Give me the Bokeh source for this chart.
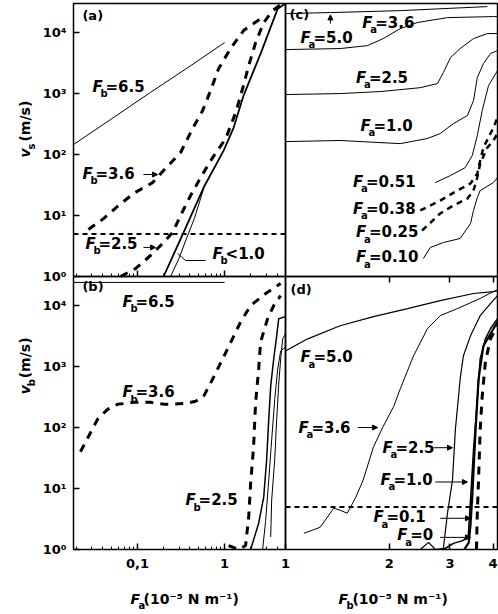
import math
from bokeh.plotting import figure
from bokeh.models import (Range1d, LogScale, LogAxis, FixedTicker, Label, Arrow,
                          NormalHead, BoxAnnotation)
from bokeh.embed import file_html
from bokeh.resources import INLINE

FONT = "DejaVu Sans"

# ---- axis extents (panel ranges) ----
FA_MIN, FA_MAX = 0.0184, 5.0      # F_a, left column
FB_MIN, FB_MAX = 1.0, 4.12        # F_b, right column
V_MIN, V_MAX = 1.0, 3.0e4         # v_s / v_b
V_THRESH = 5.0

# ---- tick labels ----
y_ticks = [1, 10, 100, 1000, 10000]
y_tick_labels = ["10⁰", "10¹", "10²", "10³", "10⁴"]
fa_ticks = [0.1, 1]
fa_tick_labels = ["0,1", "1"]
fa_minor = [0.02, 0.03, 0.04, 0.05, 0.06, 0.07, 0.08, 0.09,
            0.2, 0.3, 0.4, 0.5, 0.6, 0.7, 0.8, 0.9, 2, 3, 4]
fb_ticks = [1, 2, 3, 4]
fb_tick_labels = ["1", "2", "3", "4"]

# ---- panel (a): v_s vs F_a ----
a_fb65_x = [0.0184, 0.049, 0.14, 0.41, 1.0]
a_fb65_y = [146, 375, 1040, 2880, 6860]
a_fb36_x = [0.0273, 0.0407, 0.0605, 0.090, 0.149, 0.199, 0.312, 0.429, 0.559, 0.690, 0.853, 1.17, 1.65, 2.40, 2.81]
a_fb36_y = [5.9, 8.9, 14.6, 23, 34.7, 54.7, 108, 267, 526, 1120, 2570, 5470, 10800, 15700, 19000]
a_fb25_x = [0.0638, 0.0948, 0.141, 0.194, 0.253, 0.312, 0.407, 0.530, 0.728, 1.03, 1.34, 1.61, 1.89, 2.27, 2.81, 3.56, 4.40]
a_fb25_y = [1.0, 1.35, 2.21, 3.47, 5.27, 10, 21.3, 42, 89, 183, 488, 1210, 2880, 6860, 14600, 22900, 28800]
a_fb1a_x = [0.199, 0.338, 0.574, 0.974, 1.27, 1.65, 2.59, 4.07, 5.0]
a_fb1a_y = [1.0, 5.27, 28.8, 116, 277, 927, 4530, 24700, 30000]
a_fb1b_x = [0.24, 0.30, 0.36, 0.45, 0.58]
a_fb1b_y = [1.0, 2.0, 4.0, 9.0, 29]
a_callout_x = [0.605, 0.356, 0.288]
a_callout_y = [1.83, 1.83, 2.38]

# ---- panel (b): v_b vs F_a ----
b_fb65_x = [0.0184, 1.0]
b_fb65_y = [24000, 24000]
b_fb36_x = [0.0221, 0.0273, 0.0347, 0.0452, 0.0589, 0.090, 0.141, 0.210, 0.356, 0.464, 0.574, 0.748, 1.08, 1.53, 1.99, 2.96, 4.40]
b_fb36_y = [40, 71, 136, 199, 240, 259, 259, 240, 249, 269, 325, 670, 1950, 5440, 10000, 15800, 23100]
b_fb25_x = [1.11, 1.45, 1.74, 1.89, 1.99, 2.15, 2.27, 2.46, 2.59, 3.12, 3.66, 4.40]
b_fb25_y = [1.16, 1.0, 1.16, 3.38, 12.3, 48.5, 259, 910, 2540, 6100, 10000, 14600]
b_s1_x = [1.99, 2.46, 2.81, 3.04, 3.21, 3.38, 3.66, 3.96, 4.18, 5.0]
b_s1_y = [1.0, 2.7, 7.2, 30, 136, 476, 1330, 3190, 6100, 6600]
b_s2_x = [2.73, 2.96, 3.21, 3.47, 3.76, 4.07, 4.40, 5.0]
b_s2_y = [1.0, 3.0, 13.8, 63, 290, 910, 1800, 2100]
b_s3_x = [3.38, 3.47, 3.76, 3.96, 4.18, 4.40, 4.64, 5.0]
b_s3_y = [1.6, 6.5, 30, 136, 514, 1330, 2850, 3440]

# ---- panel (c): v_s vs F_b ----
c_fa50_x = [1.0, 1.35, 2.15, 3.85]
c_fa50_y = [20500, 21300, 22900, 26700]
c_fa36_x = [1.0, 1.44, 1.73, 1.92, 2.15, 2.41, 2.95, 4.01, 4.12]
c_fa36_y = [5270, 5470, 6120, 7970, 11600, 14600, 17600, 18300, 18300]
c_fa25_x = [1.0, 1.44, 1.89, 2.46, 2.76, 2.87, 3.01, 3.21, 3.51, 3.85, 4.12]
c_fa25_y = [963, 1000, 1080, 1250, 1460, 2210, 3890, 5470, 7970, 9630, 9630]
c_fa10_x = [1.0, 1.44, 2.15, 2.58, 2.81, 3.07, 3.37, 3.51, 3.60, 3.75, 3.93, 4.12]
c_fa10_y = [163, 170, 151, 183, 221, 322, 436, 768, 1830, 3100, 4530, 5070]
c_fa051_x = [2.72, 3.01, 3.32, 3.48, 3.60, 3.72, 3.88, 4.12]
c_fa051_y = [34.7, 45.3, 61, 96, 205, 526, 1350, 2380]
c_fa038_x = [2.46, 2.81, 3.15, 3.44, 3.60, 3.67, 3.75, 4.01, 4.12]
c_fa038_y = [12.1, 17.6, 25.7, 33.5, 48.8, 79.7, 130, 277, 404]
c_fa025_x = [2.49, 2.81, 3.07, 3.37, 3.51, 3.60, 3.67, 3.85, 4.01, 4.12]
c_fa025_y = [5.68, 10.8, 14.6, 19.0, 25.7, 42, 71, 130, 170, 221]
c_fa010_x = [2.51, 2.63, 2.87, 3.21, 3.44, 3.51, 3.60, 3.67, 4.01, 4.12]
c_fa010_y = [1.97, 2.99, 3.61, 4.20, 7.39, 12.1, 19.7, 25.7, 34.7, 42]

# ---- panel (d): v_b vs F_b ----
d_fa50_x = [1.0, 1.16, 1.44, 1.80, 2.26, 2.81, 3.51, 4.01, 4.12]
d_fa50_y = [1800, 2850, 4670, 6580, 8920, 12100, 15800, 17000, 17500]
d_fa36_x = [1.13, 1.26, 1.38, 1.44, 1.51, 1.60, 1.68, 1.80, 1.92, 2.06, 2.15, 2.35, 2.58, 2.81, 3.15, 3.67, 4.01, 4.12]
d_fa36_y = [1.84, 2.31, 4.76, 4.41, 3.94, 7.24, 13.8, 48.5, 104, 222, 425, 1490, 4170, 6840, 8920, 13100, 17000, 18000]
d_fa25_x = [2.46, 2.60, 2.72, 2.87, 2.95, 3.05, 3.11, 3.21, 3.28, 3.44, 3.67, 3.93, 4.12]
d_fa25_y = [1.0, 1.31, 1.0, 1.04, 3.94, 13.8, 92.7, 621, 1490, 3190, 6840, 10800, 14600]
d_fa10_x = [2.87, 3.07, 3.28, 3.39, 3.44, 3.51, 3.60, 3.67, 3.80, 3.93, 4.12]
d_fa10_y = [1.0, 1.26, 1.41, 1.70, 6.45, 43.3, 290, 1330, 2850, 4170, 6100]
d_fa01_x = [3.30, 3.40, 3.44, 3.48, 3.56, 3.63, 3.75, 4.01, 4.12]
d_fa01_y = [1.0, 1.3, 2.5, 7.24, 92.7, 621, 2180, 4170, 5440]
d_fa0_x = [3.58, 3.60, 3.63, 3.67, 3.72, 3.80, 3.93, 4.12]
d_fa0_y = [1.0, 3.94, 13.8, 92.7, 325, 1190, 2850, 4670]

# ---------------------------------------------------------------
# page geometry (pixels): panels share one canvas-sized frame
W, H = 498, 614
PX_L, PX_MID, PX_R = 73, 285, 497     # left edge, column divider, right edge
PY_T, PY_MID, PY_B = 3, 276, 549      # top edge, row divider, bottom edge


def log_range(vmin, vmax, p0, p1, total, flip=False):
    """Range over the whole canvas such that vmin sits at pixel p0, vmax at p1."""
    if not flip:
        s = (p1 - p0) / math.log10(vmax / vmin)
        return Range1d(vmin * 10 ** (-p0 / s), vmin * 10 ** ((total - p0) / s))
    s = (p0 - p1) / math.log10(vmax / vmin)
    return Range1d(vmin * 10 ** (-(total - p0) / s), vmin * 10 ** (p0 / s))


p = figure(width=W, height=H,
           x_axis_type="log", y_axis_type="log",
           x_range=log_range(FA_MIN, FA_MAX, PX_L, PX_MID, W),
           y_range=log_range(V_MIN, V_MAX, PY_B, PY_MID, H, flip=True),
           x_axis_location=None, y_axis_location=None,
           min_border=0, output_backend="svg", toolbar_location=None)
p.extra_x_ranges = {"fb": log_range(FB_MIN, FB_MAX, PX_MID, PX_R, W)}
p.extra_x_scales = {"fb": LogScale()}
p.extra_y_ranges = {"top": log_range(V_MIN, V_MAX, PY_MID, PY_T, H, flip=True)}
p.extra_y_scales = {"top": LogScale()}
p.grid.visible = False
p.outline_line_color = None
p.background_fill_color = "white"
p.border_fill_color = "white"

# panel frames
for xr, yr, (x0, x1) in [("default", "top", (FA_MIN, FA_MAX)), ("default", "default", (FA_MIN, FA_MAX)),
                         ("fb", "top", (FB_MIN, FB_MAX)), ("fb", "default", (FB_MIN, FB_MAX))]:
    p.add_layout(BoxAnnotation(left=x0, right=x1, bottom=V_MIN, top=V_MAX,
                               x_range_name=xr, y_range_name=yr,
                               fill_color=None, fill_alpha=0,
                               line_color="black", line_alpha=1.0, line_width=1.5))


def add_axis(side, ticks, labels, minor=(), xr="default", yr="default", loc=None, show=True, standoff=6):
    ax = LogAxis(x_range_name=xr, y_range_name=yr, fixed_location=loc)
    ax.ticker = FixedTicker(ticks=list(ticks), minor_ticks=list(minor))
    ax.axis_line_color = None
    ax.major_tick_in = 6
    ax.major_tick_out = 0
    ax.minor_tick_in = 3
    ax.minor_tick_out = 0
    ax.major_tick_line_width = 1.5
    ax.major_tick_line_color = "black"
    ax.minor_tick_line_color = "black"
    ax.major_label_overrides = {t: l for t, l in zip(ticks, labels)}
    ax.major_label_text_font = FONT
    ax.major_label_text_font_style = "bold"
    ax.major_label_text_font_size = "13px"
    ax.major_label_text_color = "black" if show else None
    ax.major_label_standoff = standoff
    p.add_layout(ax, side)


add_axis("left", y_ticks, y_tick_labels, yr="top", loc=FA_MIN, standoff=7)
add_axis("left", y_ticks, y_tick_labels, loc=FA_MIN, standoff=7)
add_axis("below", fa_ticks, fa_tick_labels, minor=fa_minor, loc=V_MIN, standoff=9)
add_axis("below", fb_ticks, fb_tick_labels, xr="fb", loc=V_MIN, standoff=9)
add_axis("below", fa_ticks, fa_tick_labels, minor=fa_minor, yr="top", loc=V_MIN, show=False)
add_axis("above", fb_ticks[1:], fb_tick_labels[1:], xr="fb", loc=V_MAX, show=False)

THICK = dict(line_color="black", line_width=3, line_dash="8 7")
MED = dict(line_color="black", line_width=2.5, line_dash="6 5")
THIN = dict(line_color="black", line_width=1)

# panel (a)
p.line(a_fb65_x, a_fb65_y, y_range_name="top", **THIN)
p.line(a_fb1b_x, a_fb1b_y, y_range_name="top", **THIN)
p.line(a_fb1a_x, a_fb1a_y, y_range_name="top", line_color="black", line_width=1.8)
p.line(a_fb36_x, a_fb36_y, y_range_name="top", **THICK)
p.line(a_fb25_x, a_fb25_y, y_range_name="top", **THICK)
p.line([FA_MIN, FA_MAX], [V_THRESH, V_THRESH], y_range_name="top", line_color="black", line_width=2, line_dash="5 4")
p.line(a_callout_x, a_callout_y, y_range_name="top", **THIN)

# panel (b)
p.line(b_fb65_x, b_fb65_y, **THIN)
p.line(b_fb36_x, b_fb36_y, **THICK)
p.line(b_fb25_x, b_fb25_y, **THICK)
p.line(b_s1_x, b_s1_y, line_color="black", line_width=1.5)
p.line(b_s2_x, b_s2_y, **THIN)
p.line(b_s3_x, b_s3_y, **THIN)

# panel (c)
for xs, ys in [(c_fa50_x, c_fa50_y), (c_fa36_x, c_fa36_y), (c_fa25_x, c_fa25_y),
               (c_fa10_x, c_fa10_y), (c_fa051_x, c_fa051_y), (c_fa010_x, c_fa010_y)]:
    p.line(xs, ys, x_range_name="fb", y_range_name="top", **THIN)
p.line(c_fa038_x, c_fa038_y, x_range_name="fb", y_range_name="top", **MED)
p.line(c_fa025_x, c_fa025_y, x_range_name="fb", y_range_name="top", **MED)

# panel (d)
p.line(d_fa50_x, d_fa50_y, x_range_name="fb", line_color="black", line_width=1.2)
p.line(d_fa36_x, d_fa36_y, x_range_name="fb", **THIN)
p.line(d_fa25_x, d_fa25_y, x_range_name="fb", line_color="black", line_width=1.2)
p.line(d_fa10_x, d_fa10_y, x_range_name="fb", line_color="black", line_width=1.5)
p.line(d_fa01_x, d_fa01_y, x_range_name="fb", line_color="black", line_width=2.2)
p.line(d_fa0_x, d_fa0_y, x_range_name="fb", **THICK)
p.line([FB_MIN, FB_MAX], [V_THRESH, V_THRESH], x_range_name="fb", line_color="black", line_width=2, line_dash="5 4")


# ---- text ----
def txt(x, y, text, xr="default", yr="default", size=15, style="bold", dx=0, dy=0, angle=0):
    p.add_layout(Label(x=x, y=y, x_range_name=xr, y_range_name=yr, text=text,
                       x_offset=dx, y_offset=dy, angle=angle,
                       text_font=FONT, text_font_style=style, text_font_size=f"{size}px",
                       text_color="black", text_align="left", text_baseline="middle"))


def flabel(x, y, sub, rest, xr="default", yr="default", size=15, gap=13):
    txt(x, y, "F", xr, yr, size, "bold italic")
    txt(x, y, sub, xr, yr, 10, "bold", dx=8, dy=-7)
    txt(x, y, rest, xr, yr, size, "bold", dx=gap)


def arrow(x0, y0, x1, y1, xr="default", yr="default"):
    p.add_layout(Arrow(x_start=x0, y_start=y0, x_end=x1, y_end=y1,
                       x_range_name=xr, y_range_name=yr, line_color="black", line_width=1,
                       end=NormalHead(size=5, fill_color="black", line_color="black")))


# panel letters
txt(0.0233, 19000, "(a)", yr="top", size=13)
txt(0.0233, 20600, "(b)", size=13)
txt(1.027, 19700, "(c)", xr="fb", yr="top", size=13)
txt(1.034, 18400, "(d)", xr="fb", size=13)

# panel (a) labels
flabel(0.0304, 1300, "b", "=6.5", yr="top")
flabel(0.0233, 48.8, "b", "=3.6", yr="top")
flabel(0.0252, 3.47, "b", "=2.5", yr="top")
flabel(0.728, 2.38, "b", "<1.0", yr="top")
arrow(0.117, 47, 0.170, 47, yr="top")
arrow(0.117, 3.0, 0.161, 3.0, yr="top")

# panel (b) labels
flabel(0.0672, 11600, "b", "=6.5")
flabel(0.0672, 379, "b", "=3.6")
flabel(0.356, 6.45, "b", "=2.5")

# panel (c) labels
for (x, y, r) in [(1.67, 14600, "=3.6"), (1.105, 8280, "=5.0"), (1.60, 1830, "=2.5"),
                  (1.65, 299, "=1.0"), (1.57, 36.1, "=0.51"), (1.57, 13.0, "=0.38"),
                  (1.60, 5.27, "=0.25"), (1.60, 2.05, "=0.10")]:
    flabel(x, y, "a", r, xr="fb", yr="top")
arrow(1.35, 14000, 1.35, 19500, xr="fb", yr="top")

# panel (d) labels
for (x, y, r) in [(1.105, 1435, "=5.0"), (1.09, 100, "=3.6"), (1.91, 46.7, "=2.5"),
                  (1.886, 13.8, "=1.0"), (1.80, 3.38, "=0.1"), (2.11, 1.70, "=0")]:
    flabel(x, y, "a", r, xr="fb")
arrow(1.62, 100, 1.85, 100, xr="fb")
arrow(2.69, 46.7, 3.05, 46.7, xr="fb")
arrow(2.72, 12.8, 3.37, 12.8, xr="fb")
arrow(2.81, 3.25, 3.44, 3.25, xr="fb")
arrow(2.81, 1.58, 3.44, 1.58, xr="fb")

# axis titles
flabel(0.0831, 0.155, "a", "(10⁻⁵ N m⁻¹)", size=14)
flabel(1.424, 0.155, "b", "(10⁻⁵ N m⁻¹)", xr="fb", size=14, gap=14)

ANG = math.pi / 2
txt(0.00516, 89.3, "v", yr="top", size=14, style="bold italic", angle=ANG)
txt(0.00516, 89.3, "s", yr="top", size=10, dx=6, dy=8, angle=ANG)
txt(0.00516, 89.3, "(m/s)", yr="top", size=14, dy=16, angle=ANG)
txt(0.00516, 351, "v", size=14, style="bold italic", angle=ANG)
txt(0.00516, 351, "b", size=10, dx=6, dy=8, angle=ANG)
txt(0.00516, 351, "(m/s)", size=14, dy=16, angle=ANG)

open("out.html", "w").write(file_html(p, INLINE))
